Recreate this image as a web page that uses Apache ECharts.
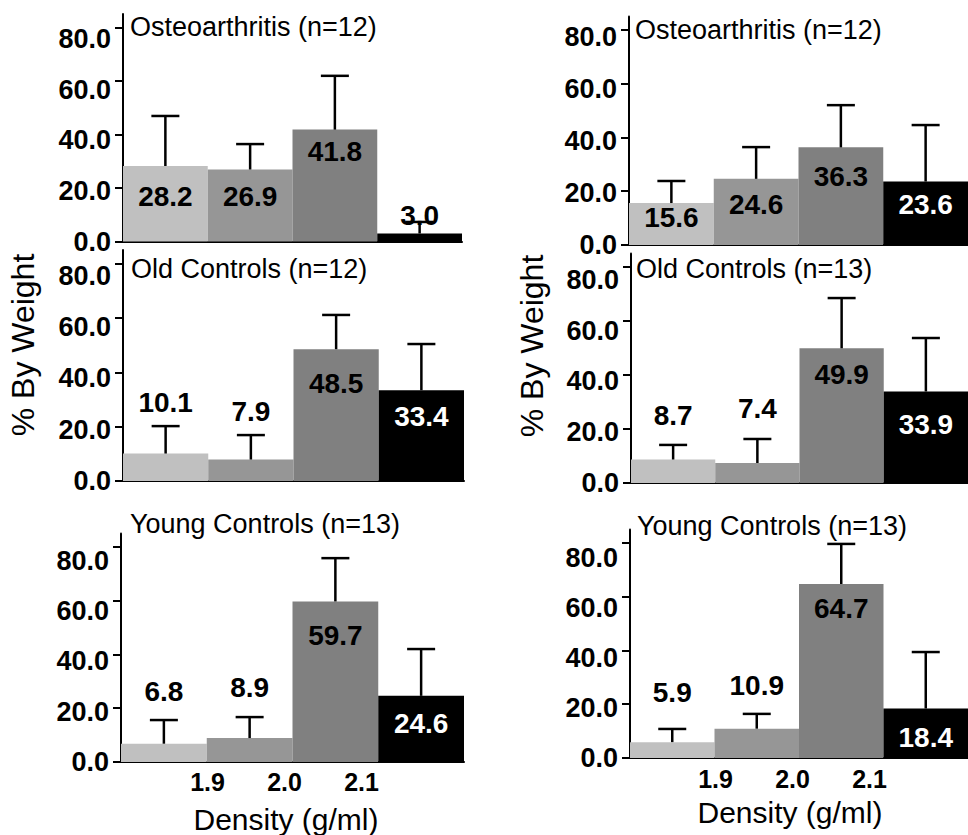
<!DOCTYPE html>
<html><head><meta charset="utf-8">
<script src="https://cdn.jsdelivr.net/npm/echarts@6/dist/echarts.min.js"></script>
<style>html,body{margin:0;padding:0;background:#fff}#c{width:968px;height:835px}</style>
</head><body><div id="c"></div>
<script>
// ---------- DATA ----------
const bins = ['<1.9', '1.9-2.0', '2.0-2.1', '>2.1'];
const densityTicks = ['1.9', '2.0', '2.1'];
const yTicks = [0, 20, 40, 60, 80];
const panelTitles = ['Osteoarthritis (n=12)', 'Osteoarthritis (n=12)', 'Old Controls (n=12)', 'Old Controls (n=13)', 'Young Controls (n=13)', 'Young Controls (n=13)'];
const yTitle = '% By Weight';
const xTitle = 'Density (g/ml)';

const oaLeftMean = [28.2, 26.9, 41.8, 3.0];
const oaLeftSD = [18.7, 9.5, 20.1, 4.3];
const oaRightMean = [15.6, 24.6, 36.3, 23.6];
const oaRightSD = [8.2, 11.8, 15.7, 21.0];
const oldLeftMean = [10.1, 7.9, 48.5, 33.4];
const oldLeftSD = [10.1, 9.0, 12.6, 17.0];
const oldRightMean = [8.7, 7.4, 49.9, 33.9];
const oldRightSD = [5.4, 8.9, 18.6, 19.8];
const youngLeftMean = [6.8, 8.9, 59.7, 24.6];
const youngLeftSD = [8.8, 7.8, 16.1, 17.4];
const youngRightMean = [5.9, 10.9, 64.7, 18.4];
const youngRightSD = [4.9, 5.5, 14.9, 21.0];

// ---------- STYLE / LAYOUT ----------
const FONT = '"Liberation Sans", Arial, Helvetica, sans-serif';
const barColors = ['#c0c0c0', '#969696', '#808080', '#000000'];
const W = '#ffffff';
const AXMAX = 85;
const panels = [
  {mean: oaLeftMean, sd: oaLeftSD, title: panelTitles[0], grid: {left: 123, top: 14, width: 339, height: 227.5}, tpos: [130, 28], k: 0.945,
   labels: [['in', 30], ['in', 27], ['in', 22], ['above', 18]]},
  {mean: oaRightMean, sd: oaRightSD, title: panelTitles[1], grid: {left: 629, top: 16.4, width: 344, height: 228.6}, tpos: [635, 31], k: 0.965,
   labels: [['in', 14], ['in', 26], ['in', 29], ['in', 23, W]]},
  {mean: oldLeftMean, sd: oldLeftSD, title: panelTitles[2], grid: {left: 123, top: 250, width: 341, height: 231}, tpos: [131, 270], k: 0.945,
   labels: [['over', 23.5], ['over', 24], ['in', 34], ['in', 26, W]]},
  {mean: oldRightMean, sd: oldRightSD, title: panelTitles[3], grid: {left: 631, top: 253.5, width: 344, height: 229.5}, tpos: [636, 270], k: 0.94,
   labels: [['over', 29], ['over', 30], ['in', 26], ['in', 33, W]]},
  {mean: youngLeftMean, sd: youngLeftSD, title: panelTitles[4], grid: {left: 121, top: 533.4, width: 343, height: 228.6}, tpos: [130, 525], k: 0.935,
   labels: [['over', 29], ['over', 29.5], ['in', 34.5], ['in', 28, W]],
   xlab: {left: 169, width: 231, margin: 7.5}, xname: [286, 819]},
  {mean: youngRightMean, sd: youngRightSD, title: panelTitles[5], grid: {left: 630, top: 529.4, width: 344, height: 228.6}, tpos: [637, 527], k: 0.93,
   labels: [['over', 36], ['over', 28], ['in', 25], ['in', 28.5, W]],
   xlab: {left: 677, width: 231, margin: 8.5}, xname: [790, 812]}
];

function errRenderer(panel) {
  return function (params, api) {
    const i = api.value(0), m = api.value(1), s = api.value(2);
    const pTop = api.coord([i, m]);
    const pUp = api.coord([i, m + s]);
    const cx = pTop[0];
    const lab = panel.labels[i];
    let cy;
    if (lab[0] === 'in') cy = pTop[1] + lab[1];
    else if (lab[0] === 'over') cy = pUp[1] - lab[1];
    else cy = pTop[1] - lab[1];
    return {type: 'group', children: [
      {type: 'line', shape: {x1: cx, y1: pTop[1], x2: cx, y2: pUp[1]}, style: {stroke: '#000', lineWidth: 2.5}},
      {type: 'line', shape: {x1: cx - 14, y1: pUp[1], x2: cx + 14, y2: pUp[1]}, style: {stroke: '#000', lineWidth: 2.5}},
      {type: 'text', x: cx, y: cy, style: {text: m.toFixed(1), align: 'center', verticalAlign: 'middle',
        fontSize: 28, fontWeight: 'bold', fontFamily: FONT, fill: lab[2] || '#000'}}
    ]};
  };
}

const grids = [], xAxes = [], yAxes = [], series = [], graphics = [];
panels.forEach((p, k) => {
  const gi = grids.length;
  grids.push(Object.assign({containLabel: false}, p.grid));
  xAxes.push({type: 'category', gridIndex: gi, data: bins, boundaryGap: true,
    axisLine: {show: true, lineStyle: {color: '#000', width: 2}}, axisTick: {show: false}, axisLabel: {show: false}, splitLine: {show: false}});
  yAxes.push({type: 'value', gridIndex: gi, position: 'left', min: 0, max: AXMAX,
    axisLine: {show: true, lineStyle: {color: '#000', width: 2}},
    axisTick: {show: true, length: 8, lineStyle: {color: '#000', width: 2}, customValues: yTicks},
    axisLabel: {show: false},
    splitLine: {show: false}});
  const yi = yAxes.length - 1;
  yAxes.push({type: 'value', gridIndex: gi, position: 'left', min: 0, max: AXMAX / p.k,
    axisLine: {show: false}, axisTick: {show: false}, splitLine: {show: false},
    axisLabel: {show: true, customValues: yTicks, formatter: v => Number(v).toFixed(1), margin: 12,
      color: '#000', fontSize: 27, fontWeight: 'bold', fontFamily: FONT}});
  const xi = xAxes.length - 1;
  series.push({type: 'bar', xAxisIndex: xi, yAxisIndex: yi, barCategoryGap: '0%', barGap: '0%',
    data: p.mean.map((v, i) => ({value: v, itemStyle: {color: barColors[i]}})), z: 2, silent: true, animation: false});
  series.push({type: 'custom', xAxisIndex: xi, yAxisIndex: yi, renderItem: errRenderer(p), z: 5, silent: true, animation: false,
    data: p.mean.map((v, i) => [i, v, p.sd[i]])});
  graphics.push({type: 'text', left: p.tpos[0], top: p.tpos[1] - 15, style: {text: p.title, fontSize: 27, fontFamily: FONT, fill: '#000'}});
  if (p.xlab) {
    const g2 = grids.length;
    grids.push({left: p.xlab.left, width: p.xlab.width, top: p.grid.top, height: p.grid.height});
    xAxes.push({type: 'category', gridIndex: g2, data: densityTicks, boundaryGap: true,
      axisLine: {show: false}, axisTick: {show: false},
      axisLabel: {show: true, interval: 0, margin: p.xlab.margin, color: '#000', fontSize: 25, fontWeight: 'bold', fontFamily: FONT}});
    yAxes.push({type: 'value', gridIndex: g2, min: 0, max: AXMAX, show: false});
    graphics.push({type: 'text', x: p.xname[0], y: p.xname[1], style: {text: xTitle, align: 'center', verticalAlign: 'middle',
      fontSize: 30, fontFamily: FONT, fill: '#000'}});
  }
});
graphics.push({type: 'text', x: 23, y: 345, rotation: Math.PI / 2, style: {text: yTitle, align: 'center', verticalAlign: 'middle', fontSize: 32, fontFamily: FONT, fill: '#000'}});
graphics.push({type: 'text', x: 532, y: 346, rotation: Math.PI / 2, style: {text: yTitle, align: 'center', verticalAlign: 'middle', fontSize: 32, fontFamily: FONT, fill: '#000'}});

const chart = echarts.init(document.getElementById('c'), null, {renderer: 'svg', width: 968, height: 835});
chart.setOption({
  backgroundColor: '#fff',
  animation: false,
  grid: grids, xAxis: xAxes, yAxis: yAxes, series: series, graphic: graphics
});
</script></body></html>
